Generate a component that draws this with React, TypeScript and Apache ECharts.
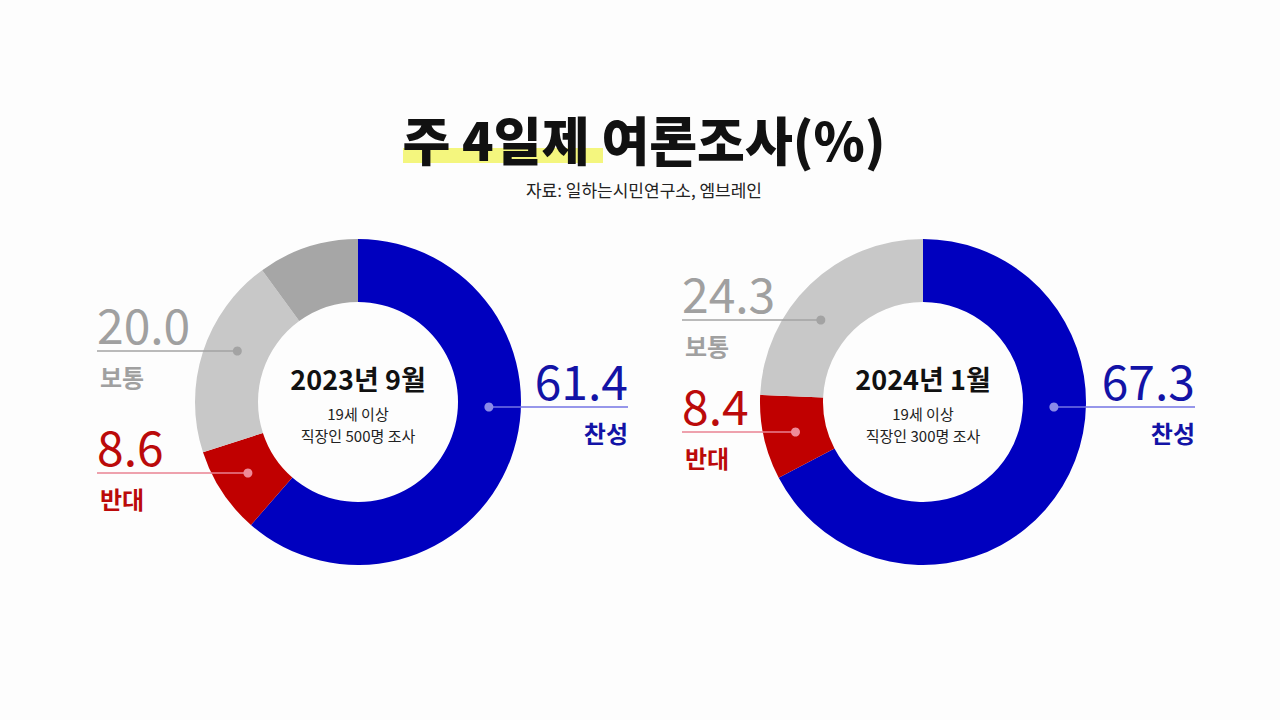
import { useRef, useEffect } from 'react';
import * as echarts from 'echarts';

// survey answers, clockwise from the top of each donut
const CATEGORIES = ['찬성', '반대', '보통', '모름'];
const SURVEY_2023 = [61.4, 8.6, 20.0, 10.0];
const SURVEY_2024 = [67.3, 8.4, 24.3, 0];
const PERIODS = ['2023년 9월', '2024년 1월'];
const AGE_NOTE = '19세 이상';
const SAMPLES = ['직장인 500명 조사', '직장인 300명 조사'];
const TITLE = '주 4일제 여론조사(%)';
const SOURCE = '자료: 일하는시민연구소, 엠브레인';

const SLICE_COLORS = ['#0000bf', '#c00000', '#c8c8c8', '#a6a6a6'];
const TEXT_COLORS = ['#1313a6', '#bb0a0a', '#a0a0a0', '#a0a0a0'];
const LINE_COLORS = ['#7373e3', '#e98292', '#a3a3a3', '#a3a3a3'];
const DOT_COLORS = ['#8a8ae8', '#ee8a98', '#a3a3a3', '#a3a3a3'];

const FONT = '"Noto Sans CJK KR", "Noto Sans", sans-serif';
const R_IN = 100;
const R_OUT = 163;
const R_MID = 131;
const CY = 402;

// label placement per donut: index into CATEGORIES, side, outer x of the rule, y of the rule
const LAYOUTS = [
  {
    cx: 358,
    labels: [
      { idx: 0, side: 'right', edge: 628, lineY: 407 },
      { idx: 1, side: 'left', edge: 97, lineY: 473 },
      { idx: 2, side: 'left', edge: 97, lineY: 351 },
    ],
  },
  {
    cx: 923,
    labels: [
      { idx: 0, side: 'right', edge: 1195, lineY: 407 },
      { idx: 1, side: 'left', edge: 682, lineY: 432 },
      { idx: 2, side: 'left', edge: 682, lineY: 320 },
    ],
  },
];

function labelElements(cx: number, values: number[], lab: any) {
  const dy = lab.lineY - CY;
  const off = Math.sqrt(R_MID * R_MID - dy * dy);
  const dotX = lab.side === 'left' ? cx - off : cx + off;
  const align = lab.side === 'left' ? 'left' : 'right';
  const i = lab.idx;
  return [
    {
      type: 'line',
      shape: { x1: lab.edge, y1: lab.lineY, x2: dotX, y2: lab.lineY },
      style: { stroke: LINE_COLORS[i], lineWidth: 1.5 },
      z: 10,
    },
    {
      type: 'circle',
      shape: { cx: dotX, cy: lab.lineY, r: 4.5 },
      style: { fill: DOT_COLORS[i] },
      z: 11,
    },
    {
      type: 'text',
      x: lab.edge,
      y: lab.lineY - 28,
      style: {
        text: values[i].toFixed(1),
        font: `400 48px ${FONT}`,
        fill: TEXT_COLORS[i],
        textAlign: align,
        textVerticalAlign: 'middle',
      },
      z: 10,
    },
    {
      type: 'text',
      x: lab.edge + (lab.side === 'left' ? 3 : 0),
      y: lab.lineY + 25,
      style: {
        text: CATEGORIES[i],
        font: `bold 24px ${FONT}`,
        fill: TEXT_COLORS[i],
        textAlign: align,
        textVerticalAlign: 'middle',
      },
      z: 10,
    },
  ];
}

export default function App() {
  const chartRef = useRef<HTMLDivElement>(null);

  useEffect(() => {
    if (!chartRef.current) return;
    const chart = echarts.init(chartRef.current, undefined, { renderer: 'svg' });
    const datasets = [SURVEY_2023, SURVEY_2024];

    const series = datasets.map((values, k) => ({
      type: 'pie',
      center: [LAYOUTS[k].cx, CY],
      radius: [R_IN, R_OUT],
      startAngle: 90,
      clockwise: true,
      silent: true,
      label: { show: false },
      labelLine: { show: false },
      emphasis: { disabled: true },
      data: CATEGORIES.map((name, i) => ({
        name,
        value: values[i],
        itemStyle: { color: SLICE_COLORS[i] },
      })),
    }));

    const graphics: any[] = [
      {
        type: 'rect',
        shape: { x: 403, y: 148, width: 200, height: 15 },
        style: { fill: '#f4f67e' },
        z: 1,
      },
      {
        type: 'text',
        x: 644,
        y: 138,
        style: {
          text: TITLE,
          font: `900 52px ${FONT}`,
          fill: '#111111',
          textAlign: 'center',
          textVerticalAlign: 'middle',
        },
        z: 2,
      },
      {
        type: 'text',
        x: 644,
        y: 189,
        style: {
          text: SOURCE,
          font: `400 17px ${FONT}`,
          fill: '#222222',
          textAlign: 'center',
          textVerticalAlign: 'middle',
        },
        z: 2,
      },
    ];

    LAYOUTS.forEach((layout, k) => {
      graphics.push(
        {
          type: 'text',
          x: layout.cx,
          y: 378,
          style: {
            text: PERIODS[k],
            font: `600 27px ${FONT}`,
            fill: '#111111',
            textAlign: 'center',
            textVerticalAlign: 'middle',
          },
          z: 10,
        },
        {
          type: 'text',
          x: layout.cx,
          y: 413,
          style: {
            text: AGE_NOTE,
            font: `400 15px ${FONT}`,
            fill: '#222222',
            textAlign: 'center',
            textVerticalAlign: 'middle',
          },
          z: 10,
        },
        {
          type: 'text',
          x: layout.cx,
          y: 435,
          style: {
            text: SAMPLES[k],
            font: `400 15px ${FONT}`,
            fill: '#222222',
            textAlign: 'center',
            textVerticalAlign: 'middle',
          },
          z: 10,
        }
      );
      layout.labels.forEach((lab) => {
        graphics.push(...labelElements(layout.cx, datasets[k], lab));
      });
    });

    chart.setOption({
      animation: false,
      backgroundColor: '#fdfdfd',
      series,
      graphic: { elements: graphics },
    });

    return () => {
      chart.dispose();
    };
  }, []);

  return (
    <div
      ref={chartRef}
      style={{ position: 'fixed', left: 0, top: 0, width: 1280, height: 720 }}
    />
  );
}
